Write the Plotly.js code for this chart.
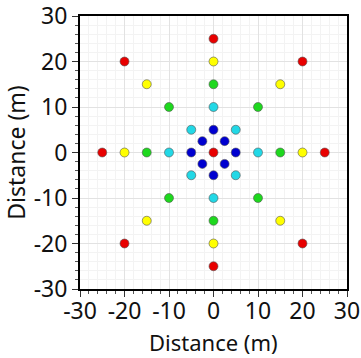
<!DOCTYPE html>
<html>
<head>
<meta charset="utf-8">
<script src="https://cdn.plot.ly/plotly-3.0.1.min.js"></script>
<style>html,body{margin:0;padding:0;background:#fff;}#chart{width:361px;height:358px;}</style>
</head>
<body>
<div id="chart"></div>
<script>
// Point positions (m), one array per ring
const centerX = [0];
const centerY = [0];
const blueX = [0, 2.5, 5, 2.5, 0, -2.5, -5, -2.5];
const blueY = [5, 2.5, 0, -2.5, -5, -2.5, 0, 2.5];
const cyanX = [0, 5, 10, 5, 0, -5, -10, -5];
const cyanY = [10, 5, 0, -5, -10, -5, 0, 5];
const greenX = [0, 10, 15, 10, 0, -10, -15, -10];
const greenY = [15, 10, 0, -10, -15, -10, 0, 10];
const yellowX = [0, 15, 20, 15, 0, -15, -20, -15];
const yellowY = [20, 15, 0, -15, -20, -15, 0, 15];
const redX = [0, 20, 25, 20, 0, -20, -25, -20];
const redY = [25, 20, 0, -20, -25, -20, 0, 20];
const tickVals = [-30, -20, -10, 0, 10, 20, 30];
const tickText = ['-30', '-20', '-10', '0', '10', '20', '30'];
const xTitle = 'Distance (m)';
const yTitle = 'Distance (m)';

function ring(x, y, color) {
  return {
    x: x, y: y, type: 'scatter', mode: 'markers',
    marker: {size: 9, color: color, line: {color: '#555', width: 0.6}},
    hoverinfo: 'x+y'
  };
}

const data = [
  ring(redX, redY, '#e80000'),
  ring(yellowX, yellowY, '#ffff00'),
  ring(greenX, greenY, '#1ed81e'),
  ring(cyanX, cyanY, '#22d8e6'),
  ring(blueX, blueY, '#0000d0'),
  ring(centerX, centerY, '#e80000')
];

const fontFam = 'Noto Sans, Open Sans, sans-serif';
function axis(labelShift) {
  return {
    range: [-30, 30],
    tickmode: 'array', tickvals: tickVals, ticktext: tickText,
    ticks: 'outside', ticklen: 6, tickwidth: 1, tickcolor: '#333',
    ticklabeloverflow: 'allow',
    ticklabelstandoff: labelShift,
    showline: true, linecolor: '#000', linewidth: 2, mirror: true,
    showgrid: true, gridcolor: '#e2e2e2', gridwidth: 1,
    zeroline: false,
    tickfont: {family: fontFam, size: 23, color: '#111'},
    minor: {dtick: 2, tick0: 0, ticks: 'outside', ticklen: 3, tickcolor: '#555', showgrid: true, gridcolor: '#f3f3f3', gridwidth: 1}
  };
}

const xa = axis(-6);
const ya = axis(0);
ya.title = {text: yTitle, font: {family: fontFam, size: 23, color: '#111'}, standoff: 4};

const layout = {
  width: 361, height: 358,
  margin: {l: 80, r: 14, t: 16, b: 69},
  paper_bgcolor: '#fff', plot_bgcolor: '#fff',
  showlegend: false,
  xaxis: xa,
  yaxis: ya,
  annotations: [{
    text: xTitle, xref: 'paper', yref: 'paper', x: 0.5, y: -0.251,
    xanchor: 'center', yanchor: 'bottom', showarrow: false, borderpad: 0,
    font: {family: fontFam, size: 22, color: '#111'}
  }]
};

Plotly.newPlot('chart', data, layout, {displayModeBar: false, staticPlot: true});
</script>
</body>
</html>
